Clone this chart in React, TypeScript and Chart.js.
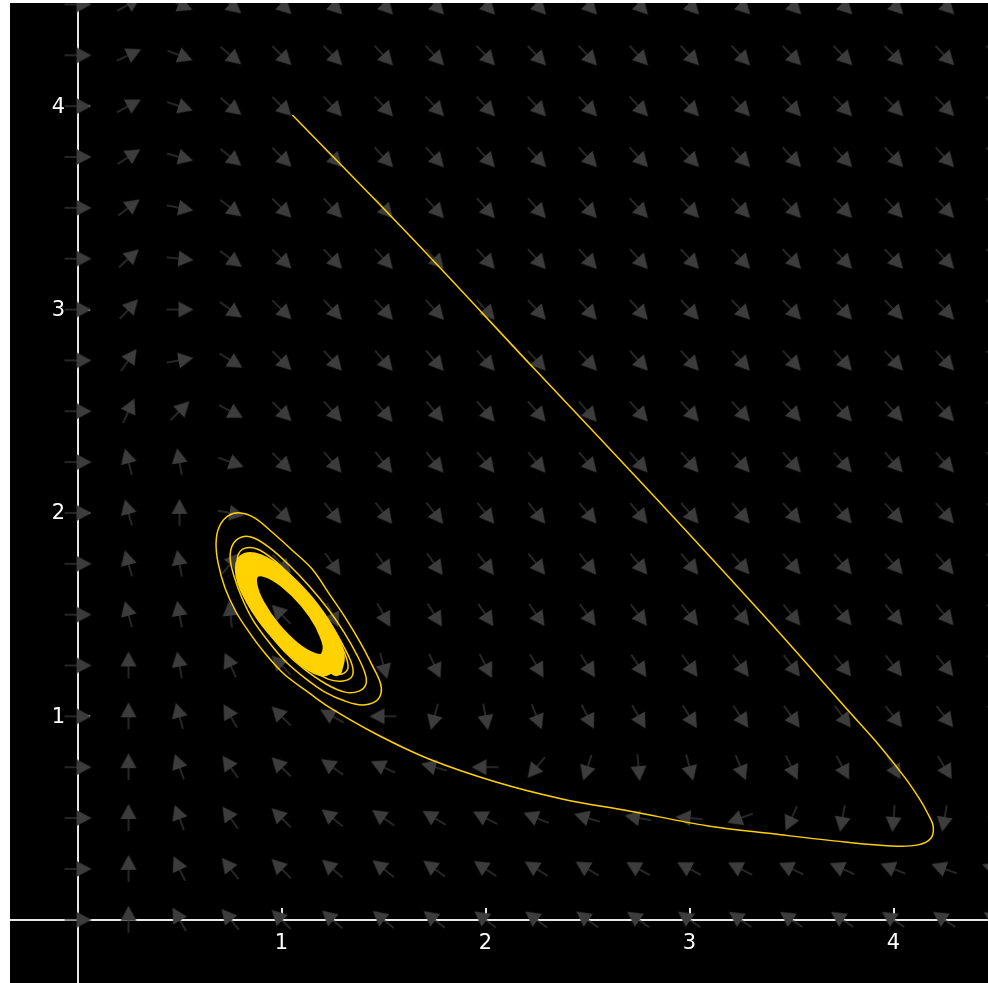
import React, { useEffect, useRef } from 'react';
import { Chart, registerables } from 'chart.js';

Chart.register(...registerables);

// ---------- data ----------
const X_MIN = -0.331;
const X_MAX = 4.463;
const Y_MIN = -0.311;
const Y_MAX = 4.507;

const xTickValues = [1, 2, 3, 4];
const yTickValues = [1, 2, 3, 4];

// direction-field grid
const fieldXs = [0, 0.25, 0.5, 0.75, 1, 1.25, 1.5, 1.75, 2, 2.25, 2.5, 2.75, 3, 3.25, 3.5, 3.75, 4, 4.25, 4.5];
const fieldYs = [4.5, 4.25, 4, 3.75, 3.5, 3.25, 3, 2.75, 2.5, 2.25, 2, 1.75, 1.5, 1.25, 1, 0.75, 0.5, 0.25, 0];
// arrow direction in degrees (0 = right, 90 = up), one row per fieldYs entry
const fieldAngles = [
  [0, 30, -23, -40, -45, -46, -47, -47, -47, -47, -47, -47, -47, -46, -46, -46, -46, -46, -46],
  [0, 25, -21, -40, -45, -46, -47, -47, -47, -47, -47, -47, -47, -47, -46, -46, -46, -46, -46],
  [0, 28, -18, -39, -45, -47, -47, -47, -47, -47, -47, -47, -47, -47, -47, -47, -46, -46, -46],
  [0, 33, -15, -39, -45, -47, -47, -48, -48, -47, -47, -47, -47, -47, -47, -47, -47, -47, -46],
  [0, 37, -11, -38, -45, -47, -48, -48, -48, -48, -48, -47, -47, -47, -47, -47, -47, -47, -47],
  [0, 42, -6, -36, -45, -47, -48, -48, -48, -48, -48, -48, -47, -47, -47, -47, -47, -47, -47],
  [0, 47, 0, -35, -45, -48, -48, -48, -48, -48, -48, -48, -48, -47, -47, -47, -47, -47, -47],
  [0, 55, 10, -32, -45, -48, -49, -49, -49, -48, -48, -48, -48, -48, -48, -48, -47, -47, -47],
  [0, 65, 45, -28, -45, -49, -50, -50, -49, -49, -49, -48, -48, -48, -48, -48, -48, -47, -47],
  [0, 105, 100, -20, -45, -50, -51, -50, -50, -50, -49, -49, -49, -48, -48, -48, -48, -48, -48],
  [0, 105, 90, -10, -45, -51, -52, -52, -51, -51, -50, -50, -50, -49, -49, -49, -48, -48, -48],
  [0, 105, 100, 50, -45, -55, -55, -54, -53, -52, -52, -51, -51, -50, -50, -49, -49, -49, -49],
  [0, 105, 100, 96, 135, -65, -61, -58, -56, -55, -54, -53, -52, -51, -51, -50, -50, -50, -50],
  [0, 90, 100, 115, 135, -156, -75, -65, -63, -60, -58, -56, -55, -54, -53, -52, -52, -51, -51],
  [0, 90, 105, 120, 135, 151, 180, -105, -80, -68, -63, -60, -58, -56, -54, -53, -52, -52, -52],
  [0, 90, 110, 125, 135, 145, 155, 165, 180, -130, -108, -85, -75, -68, -64, -62, -60, -59, -58],
  [0, 90, 110, 125, 135, 141, 145, 149, 153, 158, 163, 170, 175, -160, -115, -100, -95, -100, -95],
  [0, 90, 115, 128, 135, 139, 142, 144, 146, 148, 149, 151, 152, 153, 155, 156, 158, 160, 162],
  [0, 90, 120, 130, 135, 139, 141, 142, 143, 144, 144, 145, 145, 146, 146, 146, 146, 146, 147],
];

// trajectory
const trajX = [
  1.053, 1.625, 2.246, 2.848, 3.385, 3.793, 3.924, 4.055, 4.128, 4.169, 4.194, 4.184, 4.120, 3.988, 3.762,
  3.419, 3.091, 2.703, 2.375, 2.051, 1.723, 1.463, 1.233,
  1.130, 1.012, 0.914, 0.841, 0.777, 0.723, 0.689, 0.679, 0.694, 0.738, 0.797, 0.870, 0.953, 1.051, 1.150,
  1.238, 1.311, 1.385, 1.444, 1.483, 1.488, 1.463, 1.395, 1.311,
  1.213, 1.115, 1.017, 0.934, 0.860, 0.806, 0.767, 0.748, 0.762, 0.806, 0.865, 0.944, 1.037, 1.135, 1.228,
  1.306, 1.370, 1.409, 1.414, 1.380, 1.311,
  1.218, 1.110, 1.012, 0.929, 0.860, 0.816, 0.787, 0.787, 0.821, 0.880, 0.958, 1.051, 1.150, 1.238, 1.306,
  1.346, 1.346, 1.301, 1.228,
  1.140, 1.042, 0.958, 0.890, 0.841, 0.816, 0.821, 0.855, 0.914, 0.993, 1.086, 1.179, 1.257, 1.311, 1.326,
  1.297, 1.238,
];
const trajY = [
  3.956, 3.366, 2.701, 2.059, 1.472, 1.011, 0.864, 0.700, 0.593, 0.520, 0.461, 0.402, 0.368, 0.363, 0.382,
  0.421, 0.461, 0.535, 0.594, 0.677, 0.790, 0.913, 1.045,
  1.119, 1.208, 1.316, 1.414, 1.513, 1.631, 1.754, 1.852, 1.931, 1.985, 2.000, 1.975, 1.906, 1.818, 1.724,
  1.596, 1.488, 1.365, 1.252, 1.169, 1.115, 1.075, 1.056, 1.075,
  1.119, 1.188, 1.272, 1.370, 1.473, 1.582, 1.690, 1.778, 1.847, 1.882, 1.877, 1.827, 1.744, 1.641, 1.528,
  1.414, 1.301, 1.213, 1.159, 1.124, 1.119,
  1.159, 1.233, 1.321, 1.424, 1.532, 1.636, 1.729, 1.793, 1.827, 1.823, 1.773, 1.685, 1.577, 1.459, 1.341,
  1.252, 1.198, 1.174, 1.183,
  1.237, 1.316, 1.410, 1.513, 1.616, 1.705, 1.764, 1.788, 1.778, 1.724, 1.636, 1.528, 1.414, 1.306, 1.237,
  1.208, 1.213,
];

// the densely wound inner part of the spiral: three tightly packed turns drawn thick
const denseX = [
  1.268, 1.280, 1.229, 1.128, 1.003, 0.889, 0.816, 0.803, 0.854, 0.955, 1.080, 1.194,
  1.246, 1.259, 1.215, 1.125, 1.011, 0.906, 0.838, 0.824, 0.868, 0.959, 1.072, 1.177,
  1.217, 1.231, 1.195, 1.117, 1.019, 0.927, 0.866, 0.852, 0.889, 0.967, 1.064, 1.156,
  1.217, 1.231, 1.195,
];
const denseY = [
  1.227, 1.299, 1.425, 1.570, 1.696, 1.769, 1.769, 1.697, 1.571, 1.426, 1.300, 1.227,
  1.253, 1.321, 1.436, 1.567, 1.680, 1.744, 1.743, 1.676, 1.560, 1.429, 1.316, 1.252,
  1.287, 1.347, 1.447, 1.561, 1.658, 1.712, 1.709, 1.649, 1.549, 1.435, 1.338, 1.284,
  1.287, 1.347, 1.447,
];

// ---------- styles ----------
const GOLD = '#ffd200';
const ARROW_GRAY = '#3c3c3c';
const AXIS_COLOR = '#e8e8e8';
const FONT = { family: "'DejaVu Sans', sans-serif", size: 21 };

function makeArrowImage(): HTMLCanvasElement {
  const c = document.createElement('canvas');
  c.width = 32;
  c.height = 18;
  const g = c.getContext('2d') as CanvasRenderingContext2D;
  g.strokeStyle = ARROW_GRAY;
  g.fillStyle = ARROW_GRAY;
  g.lineWidth = 1.3;
  g.beginPath();
  g.moveTo(3, 9);
  g.lineTo(17, 9);
  g.stroke();
  g.beginPath();
  g.moveTo(15, 1);
  g.lineTo(30, 9);
  g.lineTo(15, 17);
  g.closePath();
  g.fill();
  return c;
}

// draws the y tick labels to the left of the y axis (the axis sits inside the plot)
const yLabelPlugin = {
  id: 'yTickLabels',
  afterDraw(chart: any) {
    const xs = chart.scales.x;
    const ys = chart.scales.y;
    const ctx = chart.ctx as CanvasRenderingContext2D;
    ctx.save();
    ctx.font = `${FONT.size}px ${FONT.family}`;
    ctx.fillStyle = '#ffffff';
    ctx.textAlign = 'right';
    ctx.textBaseline = 'middle';
    const x0 = xs.getPixelForValue(0);
    yTickValues.forEach((v) => ctx.fillText(String(v), x0 - 12.5, ys.getPixelForValue(v) + 1));
    ctx.restore();
  },
};

export default function App() {
  const canvasRef = useRef<HTMLCanvasElement | null>(null);

  useEffect(() => {
    const canvas = canvasRef.current;
    if (!canvas) return;

    const arrow = makeArrowImage();
    const fieldPoints: { x: number; y: number }[] = [];
    const fieldRot: number[] = [];
    fieldYs.forEach((y, i) => {
      fieldXs.forEach((x, j) => {
        fieldPoints.push({ x, y });
        fieldRot.push(-fieldAngles[i][j]);
      });
    });
    const traj = trajX.map((x, i) => ({ x, y: trajY[i] }));
    const dense = denseX.map((x, i) => ({ x, y: denseY[i] }));

    const axisCommon = (ticks: number[], padding: number, showLabels: boolean) => ({
      type: 'linear' as const,
      z: 1,
      afterBuildTicks: (scale: any) => {
        scale.ticks = ticks.map((v) => ({ value: v }));
      },
      grid: {
        display: true,
        drawOnChartArea: false,
        drawTicks: true,
        tickLength: -13,
        color: AXIS_COLOR,
        lineWidth: 2,
      },
      border: { display: true, color: AXIS_COLOR, width: 2 },
      ticks: {
        display: showLabels,
        color: '#ffffff',
        font: FONT,
        padding,
        autoSkip: false,
        maxRotation: 0,
        callback: (v: any) => String(v),
      },
    });

    const chart = new Chart(canvas, {
      type: 'scatter',
      data: {
        datasets: [
          {
            label: 'trajectory',
            data: traj,
            showLine: true,
            borderColor: GOLD,
            backgroundColor: GOLD,
            borderWidth: 1.5,
            pointRadius: 0,
            pointHoverRadius: 0,
            tension: 0.35,
            order: 1,
          } as any,
          {
            label: 'dense turns',
            data: dense,
            showLine: true,
            borderColor: GOLD,
            backgroundColor: GOLD,
            borderWidth: 12,
            borderCapStyle: 'round',
            borderJoinStyle: 'round',
            pointRadius: 0,
            pointHoverRadius: 0,
            tension: 0.4,
            order: 2,
          } as any,
          {
            label: 'field',
            data: fieldPoints,
            pointStyle: arrow,
            pointRotation: fieldRot,
            pointRadius: 20,
            pointHoverRadius: 20,
            pointBorderWidth: 0,
            order: 3,
          } as any,
        ],
      },
      options: {
        animation: false,
        responsive: true,
        maintainAspectRatio: false,
        events: [],
        layout: { padding: 0, autoPadding: false },
        plugins: { legend: { display: false }, tooltip: { enabled: false } },
        scales: {
          x: { ...axisCommon(xTickValues, 24, true), min: X_MIN, max: X_MAX, position: { y: 0 } } as any,
          y: { ...axisCommon(yTickValues, 12, false), min: Y_MIN, max: Y_MAX, position: { x: 0 } } as any,
        },
      },
      plugins: [yLabelPlugin],
    });

    return () => chart.destroy();
  }, []);

  return (
    <div
      style={{
        position: 'fixed',
        left: 10,
        top: 3,
        width: 978,
        height: 980,
        background: '#000000',
      }}
    >
      <canvas ref={canvasRef} />
    </div>
  );
}
